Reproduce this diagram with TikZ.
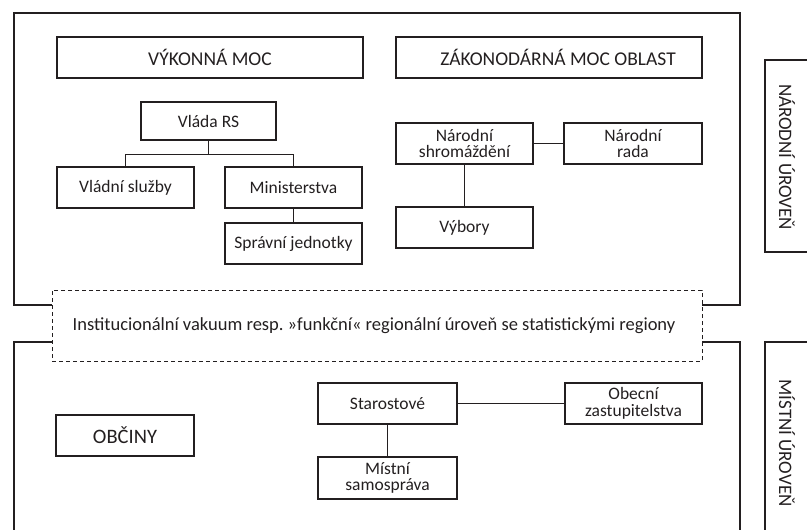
\documentclass[tikz,border=0pt]{standalone}
\usepackage{fontspec}
\setmainfont{Carlito}
\definecolor{ink}{HTML}{231F20}
\begin{document}
\begin{tikzpicture}[x=1pt,y=-1pt,
  box/.style={draw=ink, line width=1.2pt, inner sep=0pt, align=center, text=ink,
     font=\fontsize{17.5}{16.5}\selectfont},
  headbox/.style={box, minimum width=306pt, minimum height=41pt, font=\fontsize{19.5}{20}\selectfont},
  conn/.style={draw=ink, line width=1.2pt},
  frame/.style={draw=ink, line width=2pt},
  lvl/.style={draw=ink, line width=1.2pt},
  lvltext/.style={rotate=-90, text=ink, font=\fontsize{19}{20}\selectfont, inner sep=0pt}]
\useasboundingbox (0,0) rectangle (807,530);
\frenchspacing

% frames
\draw[frame] (52,305) -- (14,305) -- (14,13) -- (740,13) -- (740,305) -- (702,305);
\draw[frame] (52,342) -- (14,342) -- (14,531);
\draw[frame] (702,342) -- (740,342) -- (740,531);

% level label boxes
\draw[lvl] (808,60) -- (765,60) -- (765,252) -- (808,252);
\draw[lvl] (808,342) -- (765,342) -- (765,531);
\node[lvltext] (narlvl) at (787,157) {NÁRODNÍ ÚROVEŇ};
\node[lvltext] (mislvl) at (787,443) {MÍSTNÍ ÚROVEŇ};

% executive
\node[headbox] (vyk) at (210,57.5) {VÝKONNÁ MOC};
\node[box, minimum width=135pt, minimum height=38pt] (vlada) at (208.5,121) {Vláda RS};
\node[box, minimum width=137pt, minimum height=41pt] (sluzby) at (125.5,187.5) {Vládní služby};
\node[box, minimum width=137pt, minimum height=41pt] (minis) at (293.5,187.5) {Ministerstva};
\node[box, minimum width=137pt, minimum height=41pt] (sprav) at (293.5,243.5) {Správní jednotky};
\draw[conn] (vlada.south) -- ++(0,13.5) coordinate (j1);
\draw[conn] (sluzby.north) |- (j1) -| (minis.north);
\draw[conn] (minis.south) -- (sprav.north);

% legislative
\node[headbox] (zak) at (549,57.5) {\hspace*{18pt}ZÁKONODÁRNÁ MOC OBLAST};
\node[box, minimum width=137pt, minimum height=41pt] (shrom) at (464.5,143.5) {Národní\\shromáždění};
\node[box, minimum width=138pt, minimum height=41pt] (rada) at (633,143.5) {Národní\\rada};
\node[box, minimum width=137pt, minimum height=41pt] (vybory) at (464.5,227.5) {Výbory};
\draw[conn] (shrom.east) -- (rada.west);
\draw[conn] (shrom.south) -- (vybory.north);

% vacuum
\node[draw=ink, line width=1pt, dash pattern=on 4pt off 3pt, minimum width=650pt, minimum height=71pt,
  inner sep=0pt, text=ink, font=\fontsize{18.5}{20}\selectfont] (vak) at (377,325.5)
  {\hspace*{-6pt}Institucionální vakuum resp. »funkční« regionální úroveň se statistickými regiony};

% local
\node[box, minimum width=138pt, minimum height=41pt, font=\fontsize{20.5}{22}\selectfont] (obciny) at (125,435.5) {OBČINY};
\node[box, minimum width=139pt, minimum height=41pt] (staro) at (387.5,403.5) {Starostové};
\node[box, minimum width=137pt, minimum height=41pt] (obec) at (633.5,403.5) {Obecní\\zastupitelstva};
\node[box, minimum width=139pt, minimum height=42pt] (mistni) at (387.5,478) {Místní\\samospráva};
\draw[conn] (staro.east) -- (obec.west);
\draw[conn] (staro.south) -- (mistni.north);
\end{tikzpicture}
\end{document}
